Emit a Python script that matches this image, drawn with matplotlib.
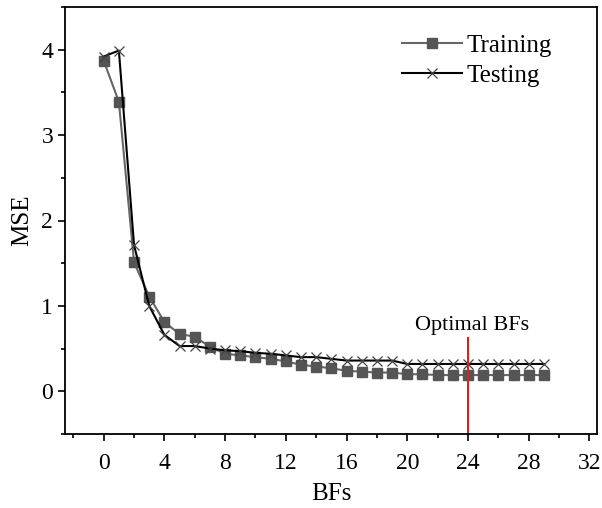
import matplotlib
matplotlib.use("Agg")
import matplotlib.pyplot as plt
from matplotlib.ticker import MultipleLocator

plt.rcParams['font.family'] = ['Liberation Serif', 'DejaVu Serif']

bfs = list(range(30))
mse_train = [3.87, 3.39, 1.51, 1.11, 0.81, 0.67, 0.64, 0.52, 0.44, 0.42,
             0.40, 0.38, 0.35, 0.31, 0.29, 0.27, 0.24, 0.23, 0.22, 0.22,
             0.20, 0.20, 0.19, 0.19, 0.19, 0.19, 0.19, 0.19, 0.19, 0.19]
mse_test = [3.92, 3.99, 1.71, 1.00, 0.66, 0.53, 0.53, 0.50, 0.48, 0.47,
            0.45, 0.44, 0.42, 0.40, 0.40, 0.38, 0.36, 0.36, 0.36, 0.36,
            0.32, 0.32, 0.32, 0.32, 0.32, 0.32, 0.32, 0.32, 0.32, 0.32]
optimal_bf = 24

fig = plt.figure(figsize=(6.02, 5.08), dpi=100)
ax = fig.add_axes([65/602, 1-434/508, (597-65)/602, (434-7)/508])

ax.plot(bfs, mse_train, color='#666666', lw=1.5, marker='s', ms=6.5,
        mfc='#555555', mec='#555555', label='Training')
ax.plot(bfs, mse_test, color='black', lw=1.5, marker='x', ms=7.5,
        mec='#444444', mew=0.9, label='Testing')

ax.plot([optimal_bf, optimal_bf], [-0.5, 0.62], color='#e0201b', lw=1.5)
ax.text(optimal_bf + 0.3, 0.72, 'Optimal BFs', ha='center', va='baseline', fontsize=16)

ax.set_xlim(-2.55, 32.5)
ax.set_ylim(-0.5, 4.5)
ax.xaxis.set_major_locator(MultipleLocator(4))
ax.xaxis.set_minor_locator(MultipleLocator(2))
ax.yaxis.set_major_locator(MultipleLocator(1))
ax.yaxis.set_minor_locator(MultipleLocator(0.5))
ax.tick_params(which='major', direction='out', length=5, width=1.2, labelsize=17)
ax.tick_params(which='minor', direction='out', length=3, width=1.2)
ax.tick_params(axis='x', which='major', pad=9)
for s in ax.spines.values():
    s.set_linewidth(1.3)

ax.set_xlabel('BFs', fontsize=18, labelpad=6)
ax.set_ylabel('MSE', fontsize=18, labelpad=6)

ax.legend(loc='upper right', frameon=False, fontsize=18, handlelength=2.4,
          handletextpad=0.2, borderaxespad=0.7, labelspacing=0.3,
          bbox_to_anchor=(0.967, 1.0))

fig.savefig('out.png', dpi=100)
